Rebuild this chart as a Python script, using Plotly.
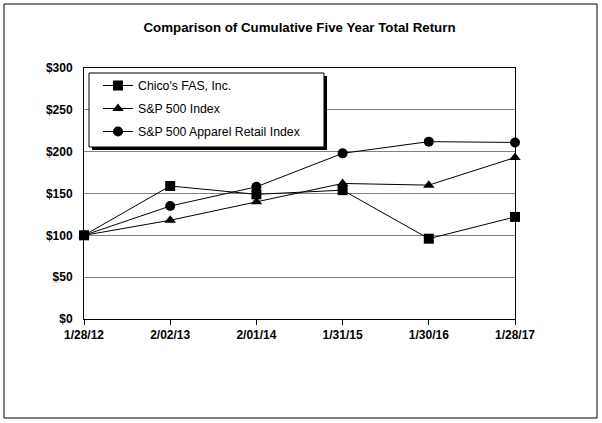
import plotly.graph_objects as go

dates = ["1/28/12", "2/02/13", "2/01/14", "1/31/15", "1/30/16", "1/28/17"]
chicos = [100, 159, 149, 154, 96, 122]
sp500 = [100, 118, 140, 162, 160, 193]
apparel = [100, 135, 158, 198, 212, 211]
y_ticks = [0, 50, 100, 150, 200, 250, 300]
y_labels = ["$" + str(v) for v in y_ticks]

FONT = "Liberation Sans, Arial, sans-serif"
W, H = 602, 423
L, R, T, B = 84, 87, 68, 104
pw, ph = W - L - R, H - T - B

def px2paper(x, y):
    return (x - L) / pw, (H - B - y) / ph

xs = list(range(len(dates)))
fig = go.Figure()
series = [("Chico's FAS, Inc.", chicos, "square", 10),
          ("S&P 500 Index", sp500, "triangle-up", 10),
          ("S&P 500 Apparel Retail Index", apparel, "circle", 10)]
for i, (name, vals, sym, sz) in enumerate(series):
    fig.add_trace(go.Scatter(x=xs, y=vals, name=name, mode="lines+markers",
                             legendgroup="g%d" % i,
                             line=dict(color="black", width=1),
                             marker=dict(symbol=sym, size=sz, color="black"),
                             cliponaxis=False))

ox0, oy0 = px2paper(4, 4)
ox1, oy1 = px2paper(597, 418)
sx0, sy0 = px2paper(92, 76)
sx1, sy1 = px2paper(327, 150)
bx0, by0 = px2paper(89, 73)
bx1, by1 = px2paper(324, 147)
lx, ly = px2paper(98, 71)

fig.update_layout(
    width=W, height=H,
    margin=dict(l=L, r=R, t=T, b=B),
    paper_bgcolor="white", plot_bgcolor="white",
    font=dict(family=FONT, color="black", size=12),
    title=dict(text="<b>Comparison of Cumulative Five Year Total Return</b>",
               x=0.5, xanchor="center", xref="paper", y=1 - 27 / H, yanchor="middle",
               font=dict(size=13.3, family=FONT)),
    showlegend=True,
    legend=dict(x=lx, y=ly, xanchor="left", yanchor="top",
                bgcolor="rgba(0,0,0,0)", borderwidth=0,
                font=dict(size=12.3, family=FONT), tracegroupgap=4,
                itemwidth=30),
    xaxis=dict(range=[0, 5], tickmode="array", tickvals=xs, ticktext=["<b>%s</b>" % d for d in dates],
               showgrid=False, zeroline=False, showline=True, linecolor="black", linewidth=1,
               mirror=True, ticks="outside", ticklen=5, tickcolor="black",
               tickfont=dict(size=12, family=FONT)),
    yaxis=dict(range=[0, 300], tickmode="array", tickvals=y_ticks, ticktext=["<b>%s</b>" % s for s in y_labels],
               showgrid=True, gridcolor="#808080", gridwidth=1, zeroline=False,
               showline=True, linecolor="black", linewidth=1, mirror=True,
               ticks="", ticklabelstandoff=8,
               tickfont=dict(size=12, family=FONT)),
    shapes=[
        dict(type="rect", xref="paper", yref="paper", x0=ox0, y0=oy0, x1=ox1, y1=oy1,
             line=dict(color="black", width=1), fillcolor="rgba(0,0,0,0)", layer="below"),
        dict(type="rect", xref="paper", yref="paper", x0=sx0, y0=sy0, x1=sx1, y1=sy1,
             line=dict(width=0), fillcolor="black", layer="above"),
        dict(type="rect", xref="paper", yref="paper", x0=bx0, y0=by0, x1=bx1, y1=by1,
             line=dict(color="black", width=1), fillcolor="white", layer="above"),
    ],
)
fig.write_html("out.html")
